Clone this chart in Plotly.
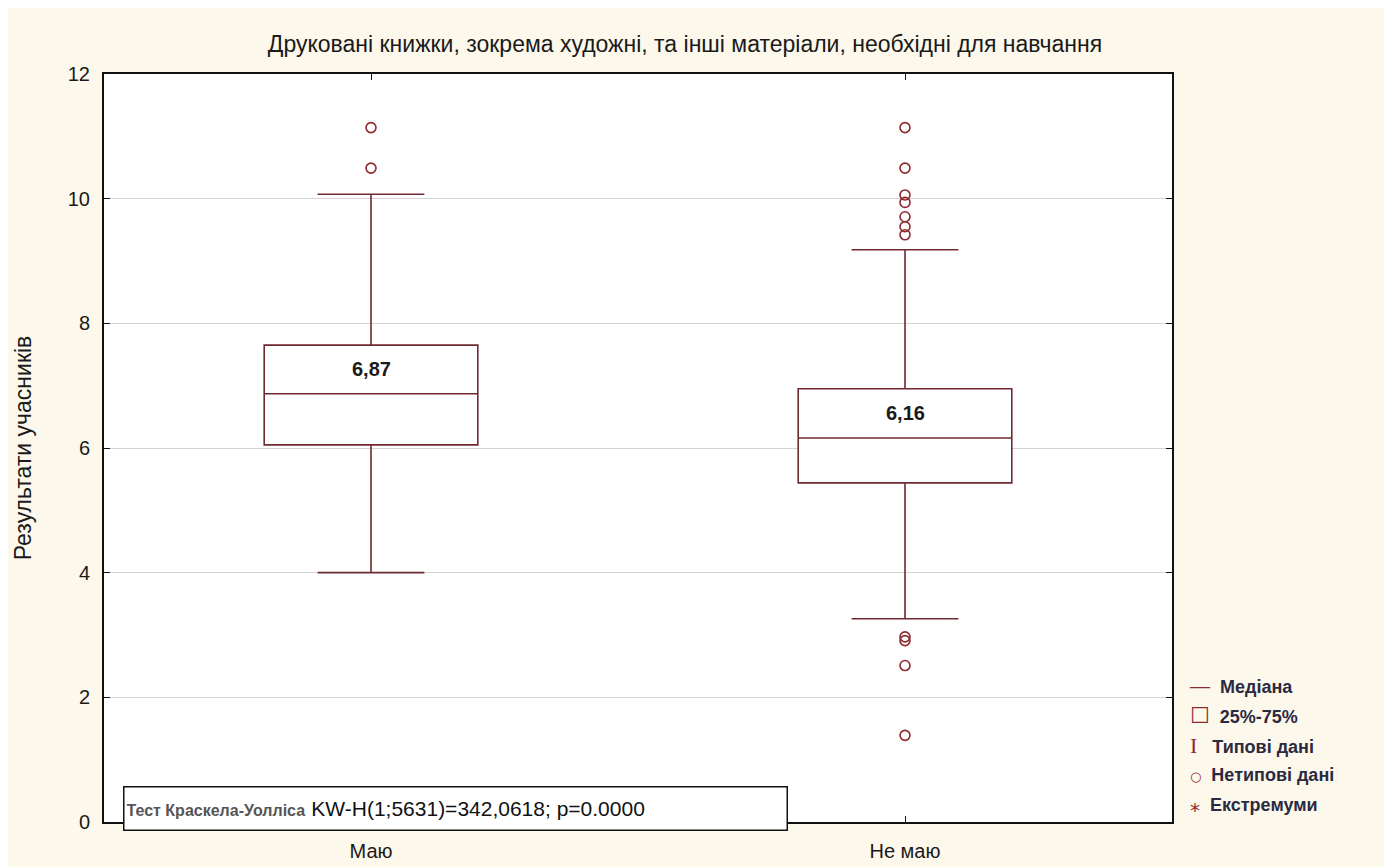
import plotly.graph_objects as go

categories = ["Маю", "Не маю"]
q1 = [6.05, 5.44]
median = [6.87, 6.16]
q3 = [7.65, 6.95]
lower_whisker = [4.0, 3.26]
upper_whisker = [10.07, 9.18]
median_labels = ["6,87", "6,16"]
outliers = {
    "Маю": [11.14, 10.49],
    "Не маю": [11.14, 10.49, 10.06, 9.94, 9.71, 9.55, 9.42, 2.97, 2.91, 2.51, 1.39],
}
y_ticks = [0, 2, 4, 6, 8, 10, 12]

box_color = "#6E2A30"
red = "#8E2A2E"
bg = "#FDF8EC"
sans = "Liberation Sans, Arial"

fig = go.Figure()
fig.add_trace(go.Box(
    x=categories, q1=q1, median=median, q3=q3,
    lowerfence=lower_whisker, upperfence=upper_whisker,
    boxpoints=False, width=0.4, whiskerwidth=0.5,
    fillcolor="white", line=dict(color=box_color, width=1.6),
    showlegend=False, hoverinfo="skip",
))
ox, oy = [], []
for c in categories:
    for v in outliers[c]:
        ox.append(c)
        oy.append(v)
fig.add_trace(go.Scatter(
    x=ox, y=oy, mode="markers",
    marker=dict(symbol="circle-open", size=10, color=red, line=dict(width=1.6)),
    showlegend=False, hoverinfo="skip",
))

annotations = []
for c, m, lab, hi in zip(categories, median, median_labels, q3):
    annotations.append(dict(
        x=c, y=(m + hi) / 2, text=f"<b>{lab}</b>", showarrow=False,
        font=dict(family=sans, size=20, color="#1a1a1a"),
        yanchor="middle",
    ))

annotations.append(dict(
    xref="paper", yref="paper", x=(123 - 104) / 1068, y=(822 - 831) / 748,
    xanchor="left", yanchor="bottom",
    text="<span style='font-family:Liberation Sans, Arial;font-size:16px;color:#555'><b>Тест Краскела-Уолліса</b></span>"
         "  <span style='font-family:Liberation Sans, Arial;font-size:21px;color:#111'>KW-H(1;5631)=342,0618; p=0.0000</span>",
    showarrow=False, bgcolor="white", bordercolor="#111", borderwidth=1.5,
    borderpad=2, width=658, height=38, align="left", valign="middle",
))

legend_items = [
    ("—", "Медіана", sans, 20),
    ("☐", "25%-75%", "DejaVu Sans", 22),
    ("I", " Типові дані", "Liberation Serif", 22),
    ("○", "Нетипові дані", "DejaVu Sans", 13),
    ("⁎", "Екстремуми", "DejaVu Sans", 20),
]
for i, (sym, txt, sfont, ssize) in enumerate(legend_items):
    yy = 686 + i * 29.5
    annotations.append(dict(
        xref="paper", yref="paper", x=(1188 - 104) / 1068,
        y=(822 - yy) / 748, xanchor="left", yanchor="middle",
        text=f"<span style='color:{red};font-family:{sfont};font-size:{ssize}px'>{sym}</span>  <b>{txt}</b>",
        showarrow=False, align="left",
        font=dict(family=sans, size=18, color="#2a2a40"),
    ))

fig.update_layout(
    width=1384, height=859,
    paper_bgcolor=bg, plot_bgcolor="white",
    margin=dict(l=96, r=220, t=66, b=45),
    title=dict(text="Друковані книжки, зокрема художні, та інші матеріали, необхідні для навчання",
               x=(685 - 8) / 1384, xanchor="center", y=1 - 36 / 859, yanchor="middle",
               font=dict(family=sans, size=23, color="#1a1a1a")),
    annotations=annotations,
)
fig.update_xaxes(
    range=[-0.5, 1.5], showline=True, mirror="ticks", linecolor="#111", linewidth=2,
    ticks="inside", ticklen=6, tickcolor="#111", showgrid=False, ticklabelstandoff=10,
    automargin=False,
    tickfont=dict(family=sans, size=20, color="#1a1a1a"),
)
fig.update_yaxes(
    range=[0, 12], tickvals=y_ticks, showline=True, mirror="ticks", linecolor="#111", linewidth=2,
    ticks="inside", ticklen=6, tickcolor="#111", showgrid=True, gridcolor="#d4d4d4", gridwidth=1,
    zeroline=False, ticklabelstandoff=8, automargin=False,
    tickfont=dict(family=sans, size=20, color="#1a1a1a"),
    title=dict(text="Результати учасників", font=dict(family=sans, size=23, color="#1a1a1a"), standoff=30),
)
fig.write_html("out.html")
